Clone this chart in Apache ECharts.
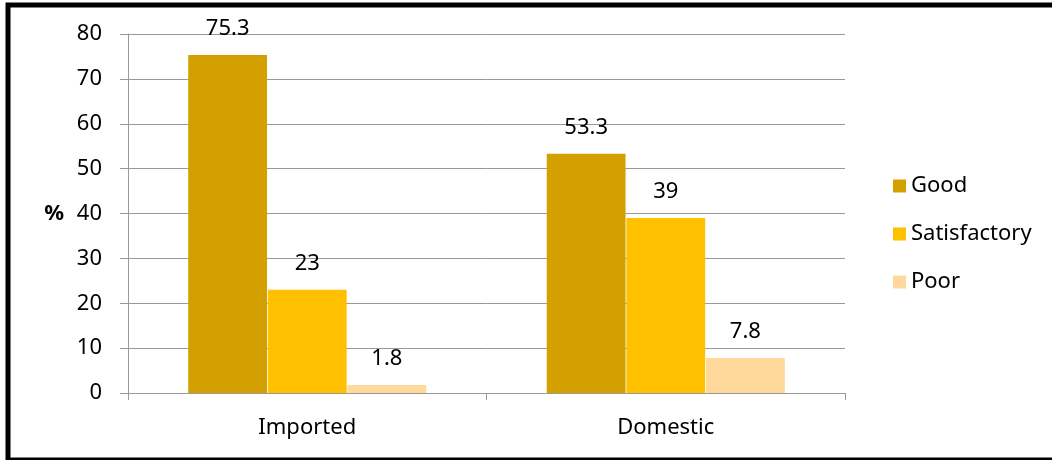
<!DOCTYPE html>
<html>
<head>
<meta charset="utf-8">
<style>
  html, body { margin: 0; padding: 0; background: #fff; }
  #chart { width: 1052px; height: 460px; }
</style>
<script src="https://cdn.jsdelivr.net/npm/echarts@6/dist/echarts.min.js"></script>
</head>
<body>
<div id="chart"></div>
<script>
// Product origin categories and rating shares (%)
const categories = ['Imported', 'Domestic'];
const seriesNames = ['Good', 'Satisfactory', 'Poor'];
const goodValues = [75.3, 53.3];
const satisfactoryValues = [23, 39];
const poorValues = [1.8, 7.8];
const yTicks = { min: 0, max: 80, interval: 10 };

const colors = ['#D4A000', '#FFC000', '#FFD89C'];
const FONT = '"Noto Sans", "Liberation Sans", sans-serif';

const chart = echarts.init(document.getElementById('chart'));

function barSeries(name, data, color) {
  return {
    name: name,
    type: 'bar',
    data: data,
    barGap: '1%',
    barCategoryGap: '33.6%',
    itemStyle: { color: color },
    label: {
      show: true,
      position: 'top',
      distance: 15,
      color: '#000',
      fontFamily: FONT,
      fontSize: 22
    }
  };
}

chart.setOption({
  animation: false,
  backgroundColor: '#fff',
  grid: { left: 128, right: 207, top: 34, bottom: 67, containLabel: false },
  legend: {
    orient: 'vertical',
    left: 888,
    top: 170,
    itemWidth: 13,
    itemHeight: 13,
    itemGap: 26,
    icon: 'rect',
    data: seriesNames,
    textStyle: { fontFamily: FONT, fontSize: 22, color: '#000' }
  },
  xAxis: {
    type: 'category',
    data: categories,
    axisLine: { lineStyle: { color: '#999', width: 1 } },
    axisTick: { show: true, length: 7, lineStyle: { color: '#999' } },
    axisLabel: { margin: 24, fontFamily: FONT, fontSize: 22, color: '#000' }
  },
  yAxis: {
    type: 'value',
    min: yTicks.min,
    max: yTicks.max,
    interval: yTicks.interval,
    name: '%',
    nameLocation: 'middle',
    nameRotate: 0,
    nameGap: 64,
    nameTextStyle: { fontFamily: FONT, fontSize: 22, fontWeight: 'bold', color: '#000' },
    axisLine: { show: true, lineStyle: { color: '#999', width: 1 } },
    axisTick: { show: true, length: 8, lineStyle: { color: '#999' } },
    splitLine: { show: true, lineStyle: { color: '#999', width: 1 } },
    axisLabel: { margin: 26, fontFamily: FONT, fontSize: 22, color: '#000' }
  },
  series: [
    barSeries(seriesNames[0], goodValues, colors[0]),
    barSeries(seriesNames[1], satisfactoryValues, colors[1]),
    barSeries(seriesNames[2], poorValues, colors[2])
  ],
  graphic: [{
    type: 'rect',
    silent: true,
    z: 100,
    shape: { x: 8, y: 5, width: 1070, height: 455 },
    style: { fill: 'none', stroke: '#000', lineWidth: 5 }
  }]
});
</script>
</body>
</html>
